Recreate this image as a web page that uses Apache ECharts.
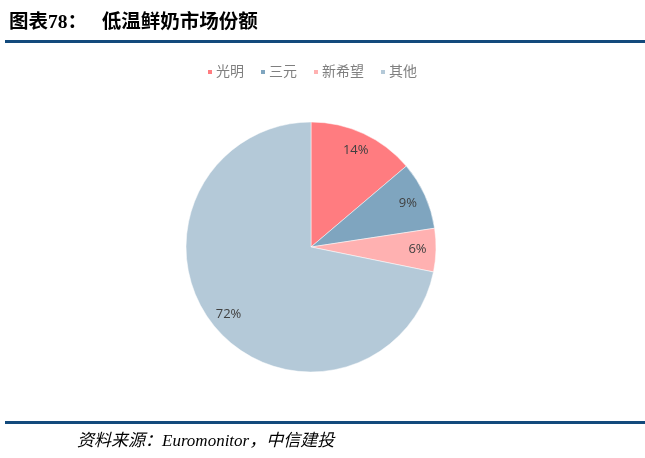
<!DOCTYPE html>
<html><head><meta charset="utf-8">
<script src="https://cdn.jsdelivr.net/npm/echarts@6/dist/echarts.min.js"></script>
<style>html,body{margin:0;padding:0;background:#fff}#c{width:645px;height:458px}</style>
</head><body><div id="c"></div>
<script>
const categories = ['光明', '三元', '新希望', '其他'];
const shares = [13.8, 8.8, 5.6, 71.8];
const colors = ['#FF7C80', '#7FA5BF', '#FFB1B1', '#B4C9D8'];
const titleText = '图表78：   低温鲜奶市场份额';
const sourceText = '资料来源：Euromonitor，中信建投';

const chart = echarts.init(document.getElementById('c'));
const data = categories.map((n, i) => ({ name: n, value: shares[i], itemStyle: { color: colors[i] } }));
chart.setOption({
  animation: false,
  backgroundColor: '#fff',
  title: {
    text: titleText, left: 4, top: 8,
    textStyle: { fontSize: 19.5, fontWeight: 'bold', color: '#000', fontFamily: '"Liberation Serif", "Noto Sans CJK SC", serif' }
  },
  legend: {
    data: categories, top: 60, left: 201, icon: 'rect', itemWidth: 6, itemHeight: 6, itemGap: 15,
    textStyle: { fontSize: 14, color: '#7f7f7f', fontFamily: '"Liberation Serif", "Noto Sans CJK SC", serif', padding: [0, 0, 0, -2] }
  },
  graphic: [
    { type: 'rect', shape: { x: 5, y: 40, width: 640, height: 3 }, style: { fill: '#134A7C' } },
    { type: 'rect', shape: { x: 5, y: 421, width: 640, height: 3 }, style: { fill: '#134A7C' } },
    { type: 'text', left: 77, top: 433, style: { text: sourceText, fontSize: 17, fontStyle: 'italic', fill: '#000', fontFamily: '"Liberation Serif", "Noto Sans CJK SC", serif' } }
  ],
  series: [
    {
      type: 'pie', center: [311, 247], radius: [0, 125], startAngle: 90, clockwise: true,
      data: data, label: { show: false }, labelLine: { show: false },
      itemStyle: { borderColor: '#fff', borderWidth: 0.5 }, emphasis: { disabled: true }
    },
    {
      type: 'pie', center: [311, 247], radius: [82, 125], startAngle: 90, clockwise: true, silent: true,
      data: categories.map((n, i) => ({ name: n, value: shares[i], itemStyle: { color: 'rgba(0,0,0,0)' } })),
      legendHoverLink: false,
      label: {
        show: true, position: 'inside', color: '#404040', fontSize: 13, fontFamily: '"Open Sans", "Liberation Sans", sans-serif',
        formatter: p => Math.round(p.value) + '%'
      },
      labelLine: { show: false }, emphasis: { disabled: true }
    }
  ]
});
</script></body></html>
